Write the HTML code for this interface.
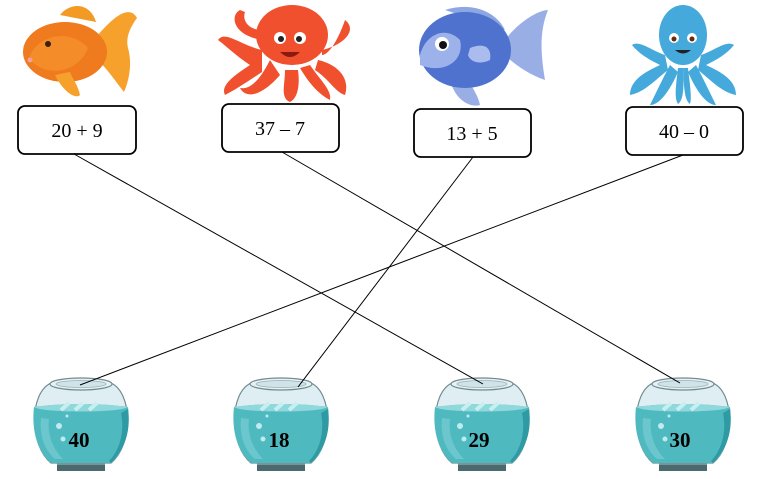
<!DOCTYPE html>
<html><head><meta charset="utf-8"><style>
html,body{margin:0;padding:0;background:#fff;}
svg{display:block;}
</style></head><body>
<svg width="777" height="479" viewBox="0 0 777 479" xmlns="http://www.w3.org/2000/svg">
<defs>
<g id="bowl">
  <!-- glass body -->
  <path d="M-30,0 C-52,10 -52,62 -30,80 L30,80 C52,62 52,10 30,0 Z" fill="#dfeef2" stroke="#6f8a90" stroke-width="1.2"/>
  <!-- water -->
  <path d="M-47,24 C-50,50 -42,70 -30,80 L30,80 C42,70 50,50 47,24 C20,20 -20,20 -47,24 Z" fill="#4fb9c0"/>
  <path d="M-47,24 C-20,20 20,20 47,24 C40,30 -40,30 -47,24 Z" fill="#8fd8dc"/>
  <path d="M-20,27 L-12,20 M-6,27 L2,20 M8,27 L16,20" stroke="#c8eef0" stroke-width="4"/>
  <path d="M-40,35 C-42,55 -35,68 -26,76 L-18,76 C-28,66 -34,52 -32,36 Z" fill="#7fd0d5" opacity="0.6"/>
  <path d="M40,30 C44,50 38,68 28,78 L30,80 C44,66 50,48 47,26 Z" fill="#2f9aa3"/>
  <circle cx="-22" cy="43" r="3" fill="#bfeaf0"/>
  <circle cx="-18" cy="56" r="2.5" fill="#bfeaf0"/>
  <circle cx="-14" cy="33" r="1.5" fill="#bfeaf0"/>
  <!-- rim -->
  <ellipse cx="0" cy="1" rx="31" ry="6" fill="#e8f2f4" stroke="#6f8a90" stroke-width="1.2"/>
  <ellipse cx="0" cy="1" rx="25" ry="3.5" fill="#cfe3e8" stroke="#9ab0b5" stroke-width="0.8"/>
  <!-- base -->
  <rect x="-24" y="80" width="48" height="8" fill="#4a6a70"/>
  <rect x="-24" y="80" width="48" height="2" fill="#7a959a"/>
</g>
</defs>

<!-- fish 1 (goldfish) -->
<g>
  <path d="M98,35 C115,15 130,5 137,18 C128,30 126,40 128,48 C132,62 130,78 124,92 C116,82 108,70 98,60 Z" fill="#f6a12c"/>
  <path d="M60,15 C70,2 90,2 96,22 Z" fill="#f39a24"/>
  <ellipse cx="65" cy="52" rx="42" ry="30" fill="#f07a1e"/>
  <path d="M30,55 C40,35 70,28 88,48 C80,70 50,80 30,60 Z" fill="#f58c2a"/>
  <path d="M55,75 C62,90 75,100 80,95 C78,85 72,78 70,72 Z" fill="#f6a12c"/>
  <circle cx="48" cy="44" r="3" fill="#3a2010"/>
  <circle cx="30" cy="60" r="2.5" fill="#f3a0a0"/>
</g>
<!-- octopus 1 (red) -->
<g fill="#f0502e">
  <ellipse cx="292" cy="35" rx="36" ry="30"/>
  <path d="M262,50 C240,45 225,30 218,40 C225,45 235,55 250,65 C235,75 220,85 225,95 C235,90 250,80 262,72 Z"/>
  <path d="M322,50 C344,45 358,30 345,20 C340,35 330,55 322,55 Z"/>
  <path d="M318,60 C340,65 350,80 345,95 C335,92 330,80 315,70 Z"/>
  <path d="M270,60 C260,80 250,90 240,88 C245,98 260,98 280,75 Z"/>
  <path d="M285,70 C285,85 280,98 290,102 C298,98 300,85 298,70 Z"/>
  <path d="M300,68 C310,85 320,95 330,100 C332,90 320,80 310,65 Z"/>
  <path d="M240,10 C230,15 232,35 262,40 L262,30 C248,30 242,20 245,12 Z"/>
  <circle cx="280" cy="38" r="6" fill="#fff"/><circle cx="300" cy="38" r="6" fill="#fff"/>
  <circle cx="281" cy="39" r="3" fill="#222"/><circle cx="299" cy="39" r="3" fill="#222"/>
  <path d="M280,52 Q290,62 300,52 Z" fill="#8a1a10"/>
</g>
<!-- fish 3 (blue) -->
<g>
  <path d="M505,40 C520,20 540,10 548,10 C540,30 540,50 545,80 C530,75 515,65 505,55 Z" fill="#9aaee6"/>
  <path d="M450,80 C455,100 470,108 480,105 C478,95 472,88 470,82 Z" fill="#9aaee6"/>
  <path d="M445,10 C470,2 495,10 505,30 Z" fill="#8ea6e2"/>
  <ellipse cx="465" cy="50" rx="46" ry="38" fill="#4f72cf"/>
  <path d="M420,55 C425,35 445,25 460,40 C465,60 445,75 420,65 Z" fill="#9db2ea"/>
  <circle cx="442" cy="44" r="7" fill="#fff"/><circle cx="443" cy="45" r="4" fill="#111"/>
  <path d="M470,48 C485,42 492,48 490,60 C480,65 470,62 468,55 Z" fill="#aabbee"/>
</g>
<!-- octopus 4 (teal blue) -->
<g fill="#45a9dc">
  <ellipse cx="683" cy="35" rx="24" ry="30"/>
  <path d="M665,55 C650,50 640,40 632,45 C640,55 650,60 660,65 C645,72 630,80 630,95 C645,92 655,80 668,70 Z"/>
  <path d="M701,55 C716,50 726,40 734,45 C726,55 716,60 706,65 C721,72 736,80 736,95 C721,92 711,80 698,70 Z"/>
  <path d="M670,65 C662,80 655,95 650,105 C660,105 670,90 678,72 Z"/>
  <path d="M696,65 C704,80 711,95 716,105 C706,105 696,90 688,72 Z"/>
  <path d="M678,68 C676,85 674,98 678,104 C684,100 684,85 683,68 Z"/>
  <path d="M688,68 C690,85 692,98 690,104 C684,100 684,85 683,68 Z"/>
  <circle cx="674" cy="38" r="5" fill="#fff"/><circle cx="692" cy="38" r="5" fill="#fff"/>
  <circle cx="674" cy="39" r="2.5" fill="#6a2a10"/><circle cx="692" cy="39" r="2.5" fill="#6a2a10"/>
  <path d="M675,50 Q683,57 691,50 Z" fill="#222"/>
</g>

<!-- bowls -->
<use href="#bowl" x="81" y="383"/>
<use href="#bowl" x="281" y="383"/>
<use href="#bowl" x="482" y="383"/>
<use href="#bowl" x="683" y="383"/>

<!-- lines -->
<g stroke="#000" stroke-width="1">
  <line x1="74" y1="154" x2="483" y2="384"/>
  <line x1="282" y1="152" x2="680" y2="383"/>
  <line x1="473" y1="157" x2="298" y2="387"/>
  <line x1="683" y1="155" x2="80" y2="385"/>
</g>

<!-- boxes -->
<g fill="#fff" stroke="#000" stroke-width="1.8">
  <rect x="18" y="106" width="118" height="48" rx="7"/>
  <rect x="222" y="104" width="117" height="48" rx="7"/>
  <rect x="414" y="109" width="117" height="48" rx="7"/>
  <rect x="626" y="107" width="117" height="48" rx="7"/>
</g>
<g font-family="Liberation Serif, serif" font-size="20" text-anchor="middle" fill="#000">
  <text x="77" y="137">20 + 9</text>
  <text x="280" y="135">37 – 7</text>
  <text x="472" y="140">13 + 5</text>
  <text x="684" y="138">40 – 0</text>
</g>
<g font-family="Liberation Serif, serif" font-size="21" font-weight="bold" text-anchor="middle" fill="#000">
  <text x="79" y="447">40</text>
  <text x="279" y="447">18</text>
  <text x="479" y="447">29</text>
  <text x="680" y="447">30</text>
</g>
</svg>
</body></html>
